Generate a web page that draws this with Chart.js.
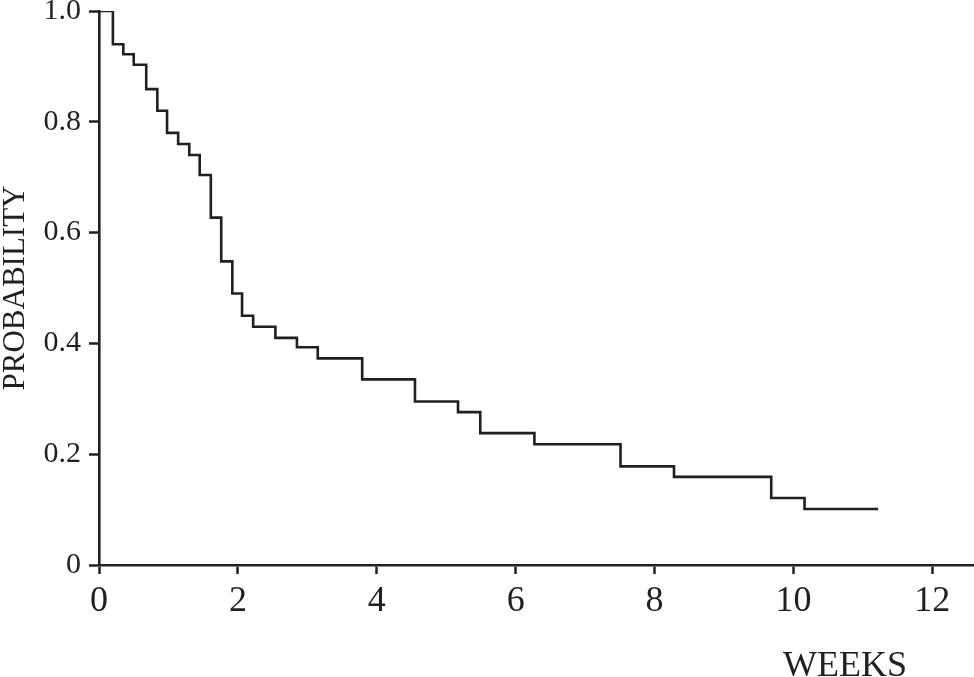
<!DOCTYPE html>
<html>
<head>
<meta charset="utf-8">
<script src="https://cdn.jsdelivr.net/npm/chart.js@4"></script>
<style>
  body { margin: 0; background: #fff; }
  #wrap { width: 974px; height: 677px; }
</style>
</head>
<body>
<div id="wrap"><canvas id="survival"></canvas></div>
<script>
// Kaplan-Meier style step curve
const weeks = [0, 0.20, 0.35, 0.50, 0.68, 0.84, 0.98, 1.14, 1.30, 1.45, 1.61, 1.76, 1.92, 2.06,
    2.22, 2.54, 2.85, 3.15, 3.79, 4.55, 5.17, 5.49, 6.27, 7.51, 8.28, 9.68, 10.16, 11.22];
const probability = [1.0, 0.94, 0.922, 0.903, 0.859, 0.82, 0.78, 0.76, 0.74, 0.704, 0.627, 0.548, 0.49, 0.45,
    0.43, 0.41, 0.393, 0.373, 0.335, 0.295, 0.276, 0.238, 0.218, 0.178, 0.159, 0.121, 0.101, 0.101];
const xTicks = [0, 2, 4, 6, 8, 10, 12];
const yTicks = [0, 0.2, 0.4, 0.6, 0.8, 1.0];

const ink = '#231f20';
const serif = 'Liberation Serif';

// WEEKS sits under the right end of the axis, not centred
const weeksLabel = {
    id: 'weeksLabel',
    afterDraw(chart) {
        const ctx = chart.ctx;
        ctx.save();
        ctx.font = '36px "' + serif + '"';
        ctx.fillStyle = ink;
        ctx.textAlign = 'right';
        ctx.textBaseline = 'alphabetic';
        ctx.fillText('WEEKS', chart.chartArea.right - 67, chart.height - 1);
        ctx.restore();
    }
};

const ctx = document.getElementById('survival');
new Chart(ctx, {
    type: 'line',
    data: {
        datasets: [{
            data: weeks.map((w, i) => ({ x: w, y: probability[i] })),
            stepped: true,
            borderColor: ink,
            borderWidth: 2.6,
            pointRadius: 0,
            fill: false
        }]
    },
    options: {
        responsive: true,
        maintainAspectRatio: false,
        animation: false,
        layout: { padding: { top: 11, right: 0, bottom: 0, left: 0 } },
        plugins: {
            legend: { display: false },
            tooltip: { enabled: false }
        },
        scales: {
            x: {
                type: 'linear',
                min: 0,
                max: 12.6,
                afterBuildTicks: scale => { scale.ticks = xTicks.map(v => ({ value: v })); },
                ticks: {
                    color: ink,
                    font: { family: serif, size: 36 },
                    padding: 6,
                    maxRotation: 0
                },
                grid: { drawOnChartArea: false, tickLength: 9, color: ink, tickWidth: 2.5 },
                border: { color: ink, width: 2.6 },
                afterFit: scale => {
                    scale.height = 112;
                    scale.paddingLeft = 0;
                    scale.paddingRight = 0;
                }
            },
            y: {
                min: 0,
                max: 1,
                afterBuildTicks: scale => { scale.ticks = yTicks.map(v => ({ value: v })); },
                ticks: {
                    color: ink,
                    font: { family: serif, size: 30 },
                    padding: 8,
                    callback: v => v === 0 ? '0' : v.toFixed(1)
                },
                grid: { drawOnChartArea: false, tickLength: 10, color: ink, tickWidth: 2.5 },
                border: { color: ink, width: 2.6 },
                title: {
                    display: true,
                    text: 'PROBABILITY',
                    color: ink,
                    font: { family: serif, size: 31, lineHeight: 1 },
                    padding: 0
                },
                afterFit: scale => {
                    scale.width = 99;
                    scale.paddingTop = 0;
                    scale.paddingBottom = 0;
                }
            }
        }
    },
    plugins: [weeksLabel]
});
</script>
</body>
</html>
